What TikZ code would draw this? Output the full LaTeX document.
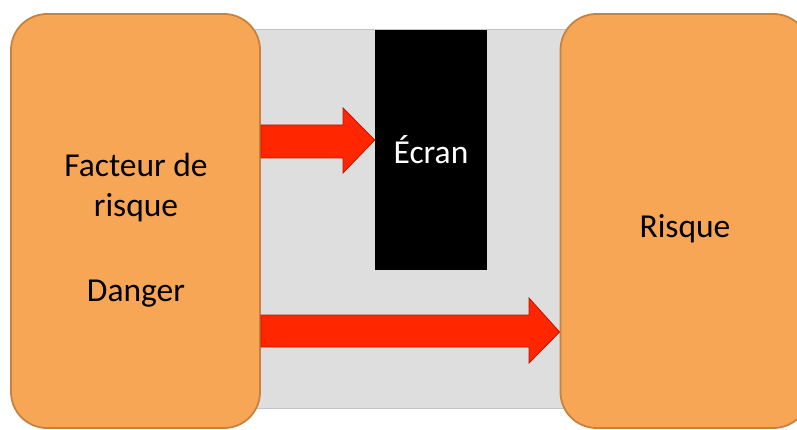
\documentclass[tikz,border=0pt]{standalone}
\usepackage{fontspec}
\setmainfont{Carlito}
\usetikzlibrary{positioning}
\definecolor{boxorange}{HTML}{F7A656}
\definecolor{boxedge}{HTML}{C8823E}
\definecolor{bggray}{HTML}{DEDEDE}
\definecolor{bgedge}{HTML}{C4C4C4}
\definecolor{arrowred}{HTML}{FF2600}
\definecolor{arrowedge}{HTML}{BE1400}
\begin{document}
\begin{tikzpicture}[x=1pt,y=-1pt]
	\tikzstyle{bigbox} = [draw=boxedge, fill=boxorange, line width=1.8pt, rounded corners=36pt, minimum width=249pt, minimum height=414pt, inner sep=0]
	\tikzstyle{label} = [inner sep=0, align=center, font=\fontsize{33.5}{40}\selectfont]
	\tikzstyle{fat} = [draw=arrowedge, fill=arrowred, line width=0.8pt, line join=miter]
	\useasboundingbox (0,0) rectangle (797,430);
	% background panel
	\draw [draw=bgedge, fill=bggray, line width=1pt] (255,30) rectangle (800,408);
	\node [bigbox] (facteur) at (135.5,221) {};
	\node [bigbox] (risque) at (685,221) {};
	\node [fill=black, minimum width=112pt, minimum height=240pt, inner sep=0, text=white, font=\fontsize{33.5}{40}\selectfont] (ecran) at (431,150) {Écran};
	\node [label] (facteurtext) at (136,230) {Facteur de\\risque\\[45pt]Danger};
	\node [label, anchor=base] (risquetext) at (685,237) {Risque};
	% arrows
	\draw [fat] (facteur.east |- 0,125) -- (343,125) -- (343,108) -- (ecran.west |- 0,140)
		-- (343,173) -- (343,158) -- (facteur.east |- 0,158) -- cycle;
	\draw [fat] (facteur.east |- 0,315) -- (529,315) -- (529,298) -- (risque.west |- 0,332)
		-- (529,363) -- (529,347) -- (facteur.east |- 0,347) -- cycle;
\end{tikzpicture}
\end{document}
